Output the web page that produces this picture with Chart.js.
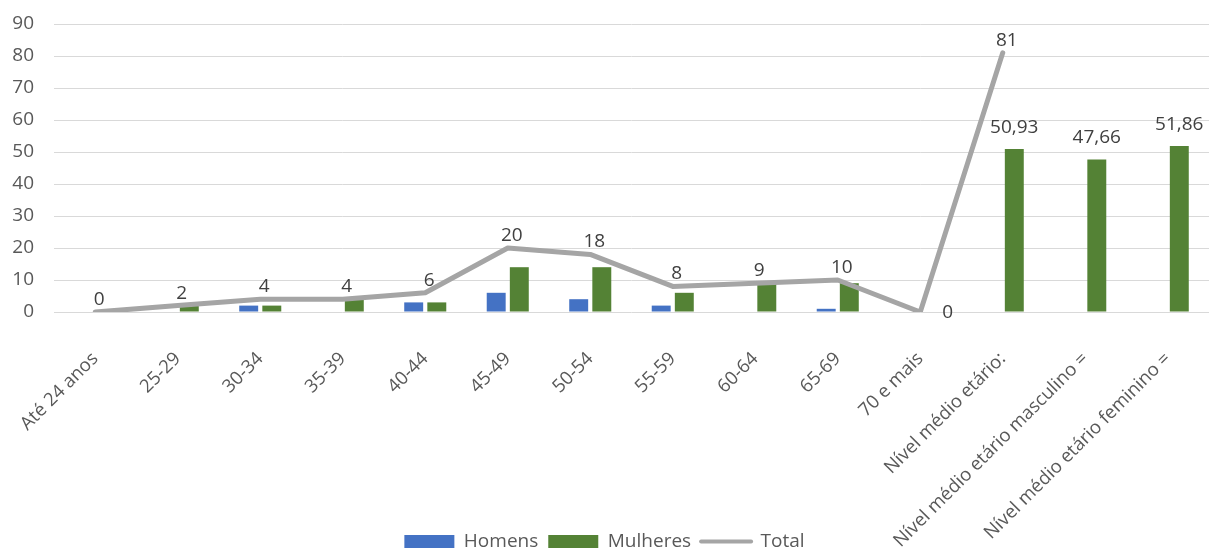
<!DOCTYPE html>
<html><head><meta charset="utf-8">
<script src="https://cdn.jsdelivr.net/npm/chart.js@4/dist/chart.umd.min.js"></script>
<style>html,body{margin:0;padding:0;background:#fff}#wrap{width:1210px;height:553px;position:relative}</style>
</head><body><div id="wrap"><canvas id="c"></canvas></div>
<script>
const categories = ["Até 24 anos","25-29","30-34","35-39","40-44","45-49","50-54","55-59","60-64","65-69","70 e mais","Nível médio etário:","Nível médio etário masculino =","Nível médio etário feminino ="];
const homens   = [0,0,2,0,3,6,4,2,0,1,0,null,null,null];
const mulheres = [0,2,2,4,3,14,14,6,9,9,0,50.93,47.66,51.86];
const total    = [0,2,4,4,6,20,18,8,9,10,0,81,null,null];
const yTicks   = [0,10,20,30,40,50,60,70,80,90];
const seriesNames = ["Homens","Mulheres","Total"];

const FONT = "'Open Sans', sans-serif";
Chart.defaults.font.family = FONT;
Chart.defaults.color = '#595959';

const fmt = v => v.toLocaleString('pt-BR');
const PLOT_BOTTOM = 312;

const labelPlugin = {
  id: 'vals',
  afterLayout(chart) {
    // let the rotated category labels run past the axis box (they overlap nothing)
    chart.scales.x.bottom = chart.height + 20;
  },
  afterDatasetsDraw(chart) {
    const ctx = chart.ctx;
    ctx.save();
    ctx.font = "19px " + FONT;
    ctx.fillStyle = '#404040';
    const tm = chart.getDatasetMeta(2);
    tm.data.forEach((pt, i) => {
      const v = total[i];
      if (v == null) return;
      if (i === 10) {
        ctx.textAlign = 'left'; ctx.textBaseline = 'middle';
        ctx.fillText(fmt(v), pt.x + 22, pt.y + 1);
      } else {
        ctx.textAlign = 'center'; ctx.textBaseline = 'bottom';
        ctx.fillText(fmt(v), pt.x + 4, pt.y - 3);
      }
    });
    const mm = chart.getDatasetMeta(1);
    ctx.textAlign = 'center'; ctx.textBaseline = 'bottom';
    mm.data.forEach((b, i) => {
      if (homens[i] !== null) return;
      ctx.fillText(fmt(mulheres[i]), b.x, b.y - 12);
    });
    ctx.restore();
  }
};

new Chart(document.getElementById('c'), {
  type: 'bar',
  data: {
    labels: categories,
    datasets: [
      { label: seriesNames[0], data: homens, backgroundColor: '#4472C4', order: 1,
        categoryPercentage: 0.56, barPercentage: 0.82 },
      { label: seriesNames[1], data: mulheres, backgroundColor: '#548235', order: 1,
        categoryPercentage: 0.56, barPercentage: 0.82 },
      { label: seriesNames[2], data: total, type: 'line', borderColor: '#A5A5A5', backgroundColor: '#A5A5A5',
        borderWidth: 5, pointRadius: 0, pointHoverRadius: 0, tension: 0, order: 0,
        borderCapStyle: 'round', borderJoinStyle: 'round', fill: false }
    ]
  },
  options: {
    responsive: true,
    maintainAspectRatio: false,
    animation: false,
    layout: { padding: { top: 24, right: 1, left: 0, bottom: -8 } },
    scales: {
      x: {
        grid: { display: false },
        border: { display: false },
        ticks: { minRotation: 45, maxRotation: 45, autoSkip: false, padding: 28,
                 font: { size: 18.5 }, color: '#595959' },
        afterFit(s) {
          const lg = s.chart.legend;
          s.height = s.chart.height + 8 - PLOT_BOTTOM - (lg ? lg.height : 39);
          s.paddingLeft = 0; s.paddingRight = 0;
        }
      },
      y: {
        min: 0, max: 90,
        afterBuildTicks(s) { s.ticks = yTicks.map(v => ({ value: v })); },
        grid: { color: '#D9D9D9', lineWidth: 1, drawTicks: false },
        border: { display: false },
        ticks: { padding: 20, font: { size: 19 }, color: '#595959' },
        afterFit(s) { s.width = 54; s.paddingTop = 0; s.paddingBottom = 0; }
      }
    },
    plugins: {
      tooltip: { enabled: false },
      legend: {
        position: 'bottom',
        labels: {
          usePointStyle: true,
          pointStyleWidth: 50,
          boxHeight: 13,
          padding: 10,
          font: { size: 19 },
          color: '#595959',
          generateLabels(chart) {
            return chart.data.datasets.map((ds, i) => {
              const isLine = ds.type === 'line';
              return {
                text: ds.label,
                datasetIndex: i,
                fillStyle: isLine ? 'rgba(0,0,0,0)' : ds.backgroundColor,
                strokeStyle: isLine ? ds.borderColor : 'rgba(0,0,0,0)',
                lineWidth: isLine ? 4 : 0,
                lineCap: 'round',
                pointStyle: isLine ? 'line' : 'rect',
                fontColor: '#595959',
                hidden: false
              };
            });
          }
        }
      }
    }
  },
  plugins: [labelPlugin]
});
</script>
</body></html>
